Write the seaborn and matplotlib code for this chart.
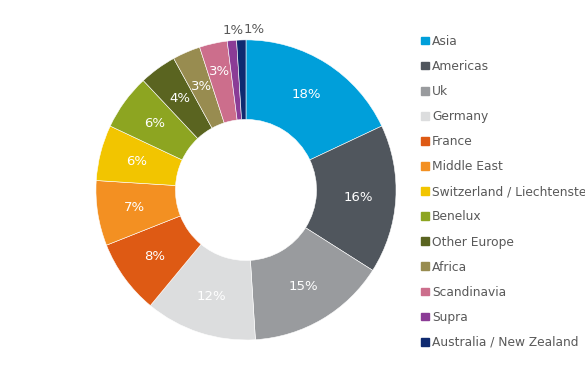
import matplotlib
matplotlib.use('Agg')
import matplotlib.pyplot as plt
import matplotlib.patches as mpatches
import numpy as np
import seaborn as sns

regions = ['Asia', 'Americas', 'Uk', 'Germany', 'France', 'Middle East',
           'Switzerland / Liechtenstein', 'Benelux', 'Other Europe', 'Africa',
           'Scandinavia', 'Supra', 'Australia / New Zealand']
shares = [18, 16, 15, 12, 8, 7, 6, 6, 4, 3, 3, 1, 1]
colors = ['#009fda', '#50565d', '#999b9e', '#dcddde', '#de5a14', '#f39022',
          '#f2c500', '#8da521', '#5a6420', '#988c50', '#cc6e8c', '#8b3c96',
          '#0f2a70']

sns.set_style('white')
plt.rcParams['font.family'] = ['DejaVu Sans']

fig = plt.figure(figsize=(5.85, 3.78), dpi=100)
ax = fig.add_axes([0.164, 0.1005, 0.513, 0.794])

wedges, _ = ax.pie(shares, colors=colors, startangle=90, counterclock=False,
                   radius=1.0,
                   wedgeprops=dict(width=0.53, linewidth=0.4, edgecolor='white'))

# percentage labels (Scandinavia label sits a bit further out, like the original)
label_r = {'Scandinavia': 0.81}
for w, v, name in zip(wedges, shares, regions):
    ang = np.deg2rad((w.theta1 + w.theta2) / 2)
    r = label_r.get(name, 0.75)
    if v >= 2:
        ax.text(r * np.cos(ang), r * np.sin(ang), '{}%'.format(v),
                ha='center', va='center', color='white', fontsize=9.5)

# small slices get their labels above the ring
small = [(w, v) for w, v in zip(wedges, shares) if v < 2]
offsets = [0.013, 0.087]
for (w, v), off in zip(small, offsets):
    ang = np.deg2rad((w.theta1 + w.theta2) / 2)
    x = 1.067 * np.cos(ang) + off
    y = 1.067 * np.sin(ang)
    ax.text(x, y, '{}%'.format(v), ha='center', va='center',
            color='#595959', fontsize=9.5)

ax.set_xlim(-1, 1)
ax.set_ylim(-1, 1)
ax.set_aspect('equal')
ax.axis('off')

handles = [mpatches.Patch(color=c, label=r) for c, r in zip(colors, regions)]
fig.legend(handles=handles, loc='upper left', bbox_to_anchor=(0.72, 0.908),
           frameon=False, fontsize=8.8, labelcolor='#595959',
           handlelength=0.6, handleheight=0.6, handletextpad=0.3,
           labelspacing=0.99, borderaxespad=0, borderpad=0)

fig.savefig('out.png', dpi=100)
